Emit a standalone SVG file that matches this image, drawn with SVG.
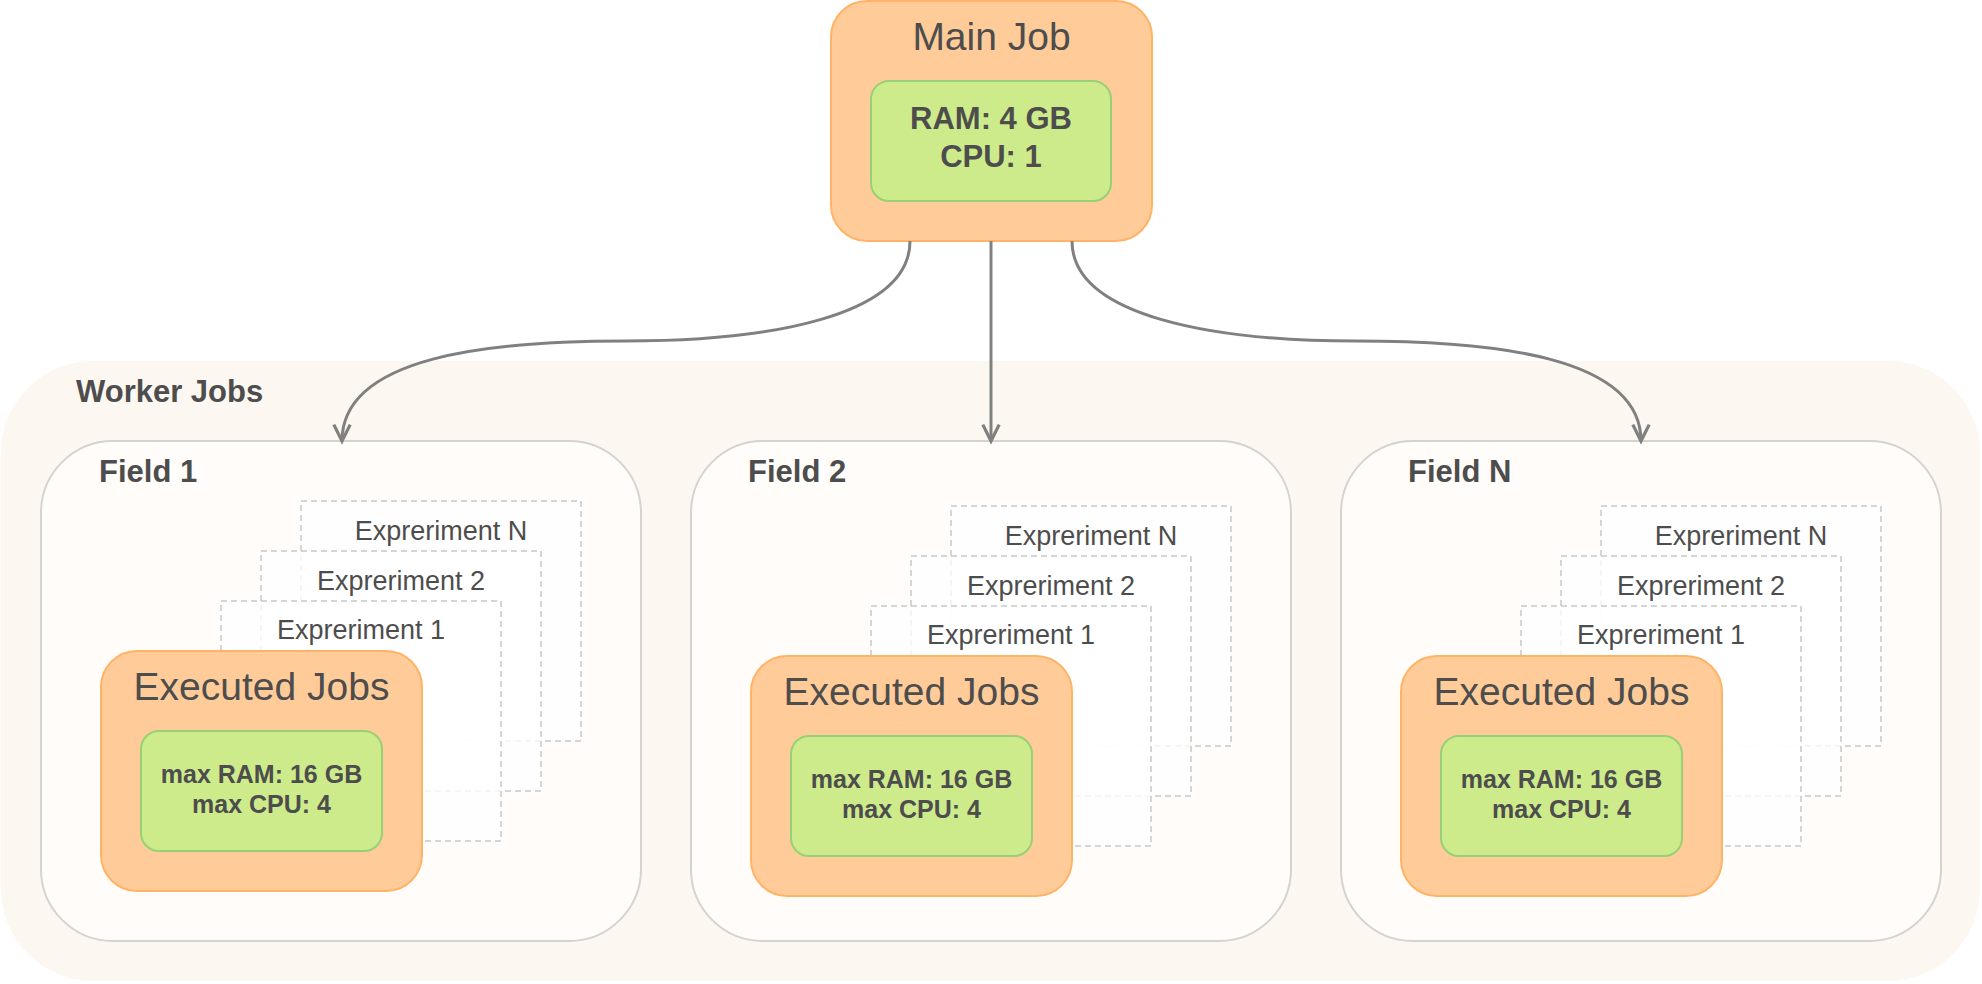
<svg xmlns="http://www.w3.org/2000/svg" width="1982" height="984" viewBox="0 0 1982 984">
<style>
text{font-family:"Liberation Sans",Arial,sans-serif;fill:#4d4d4d}
.b{font-weight:bold}
.c{text-anchor:middle}
.container{fill:#fdf7f1;stroke:none}
.field{fill:#fffcfa;stroke:#d6d3cf;stroke-width:2}
.exp{fill:#ffffff;fill-opacity:0.75;stroke:#c8c8c8;stroke-width:1.5;stroke-dasharray:6 4}
.job{fill:#ffcc99;stroke:#ffb366;stroke-width:2}
.res{fill:#cdeb8b;stroke:#97d077;stroke-width:2}
.edge{fill:none;stroke:#808080;stroke-width:3}
.t39{font-size:39px}
.t31{font-size:31px}
.t27{font-size:27px}
.t25{font-size:25px}
</style>
<defs>
<marker id="arr" markerUnits="userSpaceOnUse" markerWidth="24" markerHeight="24" viewBox="-18 -10 22 20" refX="0" refY="0" orient="auto">
<path d="M -15 -7.5 L 0 0 L -15 7.5" fill="none" stroke="#808080" stroke-width="3" stroke-linejoin="miter"/>
</marker>
</defs>
<rect width="1982" height="984" fill="#ffffff"/>

<g id="worker-jobs">
<rect class="container" x="1" y="361" width="1979" height="620" rx="92" ry="92"/>
<text class="b t31" x="76" y="402">Worker Jobs</text>
</g>

<g id="field-1">
<rect class="field" x="41" y="441" width="600" height="500" rx="72" ry="72"/>
<text class="b t31" x="99" y="482">Field 1</text>
<g>
<rect class="exp" x="301" y="501" width="280" height="240"/>
<text class="t27 c" x="441" y="540">Expreriment N</text>
<rect class="exp" x="261" y="551" width="280" height="240"/>
<text class="t27 c" x="401" y="590">Expreriment 2</text>
<rect class="exp" x="221" y="601" width="280" height="240"/>
<text class="t27 c" x="361" y="639">Expreriment 1</text>
<rect class="job" x="101" y="651" width="321" height="240" rx="36" ry="36"/>
<text class="t39 c" x="261.5" y="700">Executed Jobs</text>
<rect class="res" x="141" y="731" width="241" height="120" rx="18" ry="18"/>
<text class="b t25 c" x="261.5" y="783">max RAM: 16 GB</text>
<text class="b t25 c" x="261.5" y="813">max CPU: 4</text>
</g>
</g>

<g id="field-2">
<rect class="field" x="691" y="441" width="600" height="500" rx="72" ry="72"/>
<text class="b t31" x="748" y="482">Field 2</text>
<g transform="translate(650,5)">
<rect class="exp" x="301" y="501" width="280" height="240"/>
<text class="t27 c" x="441" y="540">Expreriment N</text>
<rect class="exp" x="261" y="551" width="280" height="240"/>
<text class="t27 c" x="401" y="590">Expreriment 2</text>
<rect class="exp" x="221" y="601" width="280" height="240"/>
<text class="t27 c" x="361" y="639">Expreriment 1</text>
<rect class="job" x="101" y="651" width="321" height="240" rx="36" ry="36"/>
<text class="t39 c" x="261.5" y="700">Executed Jobs</text>
<rect class="res" x="141" y="731" width="241" height="120" rx="18" ry="18"/>
<text class="b t25 c" x="261.5" y="783">max RAM: 16 GB</text>
<text class="b t25 c" x="261.5" y="813">max CPU: 4</text>
</g>
</g>

<g id="field-n">
<rect class="field" x="1341" y="441" width="600" height="500" rx="72" ry="72"/>
<text class="b t31" x="1408" y="482">Field N</text>
<g transform="translate(1300,5)">
<rect class="exp" x="301" y="501" width="280" height="240"/>
<text class="t27 c" x="441" y="540">Expreriment N</text>
<rect class="exp" x="261" y="551" width="280" height="240"/>
<text class="t27 c" x="401" y="590">Expreriment 2</text>
<rect class="exp" x="221" y="601" width="280" height="240"/>
<text class="t27 c" x="361" y="639">Expreriment 1</text>
<rect class="job" x="101" y="651" width="321" height="240" rx="36" ry="36"/>
<text class="t39 c" x="261.5" y="700">Executed Jobs</text>
<rect class="res" x="141" y="731" width="241" height="120" rx="18" ry="18"/>
<text class="b t25 c" x="261.5" y="783">max RAM: 16 GB</text>
<text class="b t25 c" x="261.5" y="813">max CPU: 4</text>
</g>
</g>

<g id="main-job">
<rect class="job" x="831" y="1" width="321" height="240" rx="36" ry="36"/>
<text class="t39 c" x="991.5" y="50">Main Job</text>
<rect class="res" x="871" y="81" width="240" height="120" rx="18" ry="18"/>
<text class="b t31 c" x="991" y="129">RAM: 4 GB</text>
<text class="b t31 c" x="991" y="167">CPU: 1</text>
</g>

<g id="connectors">
<path class="edge" marker-end="url(#arr)" d="M 910 241 C 910 316, 770 341, 626 341 C 490 341, 342 356, 342 441"/>
<path class="edge" marker-end="url(#arr)" d="M 991 241 L 991 441"/>
<path class="edge" marker-end="url(#arr)" d="M 1072 241 C 1072 316, 1212 341, 1356 341 C 1492 341, 1641 356, 1641 441"/>
</g>
</svg>
